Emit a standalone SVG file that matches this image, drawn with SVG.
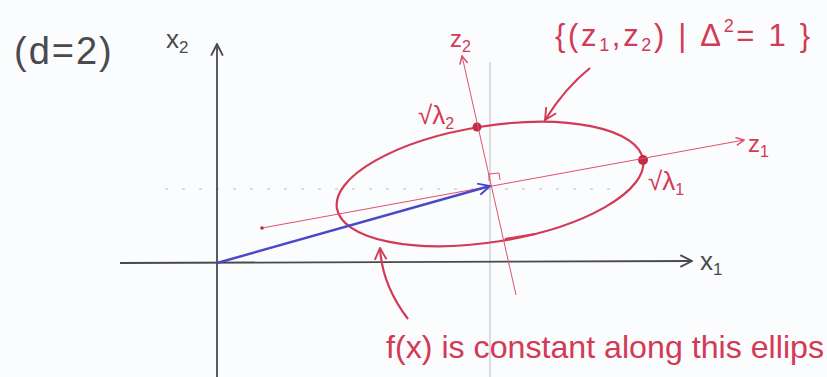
<svg xmlns="http://www.w3.org/2000/svg" width="827" height="377" viewBox="0 0 827 377">
<style>
.ax{stroke:#4a4a4e;stroke-width:1.8;fill:none}
.red{stroke:#d23a55;fill:none;stroke-width:2.2}
.thin{stroke:#e0506a;fill:none;stroke-width:1}
.guide{stroke:#b8bcc4;fill:none;stroke-width:1}
.blk{font-family:"Liberation Sans",Arial,sans-serif;fill:#4a4a4e}
.rt{font-family:"Liberation Sans",Arial,sans-serif;fill:#d23a55}
</style>
<defs>
<marker id="open" viewBox="0 0 10 10" refX="9" refY="5" markerWidth="10" markerHeight="10" markerUnits="userSpaceOnUse" orient="auto"><path d="M1,1 L9,5 L1,9" fill="none" stroke="context-stroke" stroke-width="1.5"/></marker>
<marker id="openL" viewBox="0 0 12 12" refX="11" refY="6" markerWidth="14" markerHeight="14" markerUnits="userSpaceOnUse" orient="auto"><path d="M1,1 L11,6 L1,11" fill="none" stroke="context-stroke" stroke-width="1.6"/></marker>
</defs>
<rect width="827" height="377" fill="#fbfcfe"/>
<g id="guides">
<line class="guide" x1="490" y1="62" x2="490" y2="377"/>
<line class="guide" x1="165" y1="189" x2="610" y2="189" stroke-dasharray="3 14"/>
</g>
<g id="axes">
<line class="ax" x1="217" y1="377" x2="217" y2="44" marker-end="url(#openL)"/>
<line class="ax" x1="120" y1="263" x2="692" y2="261" marker-end="url(#openL)"/>
</g>
<g id="ellipse">
<ellipse class="red" cx="490" cy="184" rx="155" ry="58" transform="rotate(-9 490 184)"/>
<circle cx="477" cy="127" r="4.5" fill="#c02a45"/>
<circle cx="643" cy="160" r="5" fill="#c02a45"/>
<path class="red" d="M505,239 L535,234" stroke-width="3"/>
</g>
<g id="z-axes">
<line class="thin" x1="262" y1="228" x2="744" y2="140" marker-end="url(#open)"/>
<circle cx="262" cy="228" r="1.8" fill="#c02a45"/>
<line class="thin" x1="516" y1="295" x2="462" y2="56" marker-end="url(#open)"/>
<path class="thin" d="M489,181 L489,174 L499,173 L500,180"/>
</g>
<g id="connectors">
<line x1="217" y1="263" x2="490" y2="186" stroke="#4848c8" stroke-width="2.4" marker-end="url(#openL)"/>
<path class="red" d="M590,68 Q565,88 545,120" marker-end="url(#openL)"/>
<path class="red" d="M408,319 Q382,285 380,248" marker-end="url(#openL)"/>
</g>
<g id="labels">
<text class="blk" x="14" y="64" font-size="38" letter-spacing="2">(d=2)</text>
<text class="blk" x="166" y="48" font-size="26">x<tspan font-size="17" dy="5">2</tspan></text>
<text class="blk" x="700" y="270" font-size="26">x<tspan font-size="17" dy="5">1</tspan></text>
<text class="rt" x="555" y="46" font-size="31" textLength="255" lengthAdjust="spacing">{(z<tspan font-size="18" dy="5">1</tspan><tspan dy="-5">,z</tspan><tspan font-size="18" dy="5">2</tspan><tspan dy="-5">)   |   Δ</tspan><tspan font-size="18" dy="-14">2</tspan><tspan dy="14">= 1 }</tspan></text>
<text class="rt" x="450" y="47" font-size="24">z<tspan font-size="16" dy="5">2</tspan></text>
<text class="rt" x="748" y="152" font-size="24">z<tspan font-size="16" dy="5">1</tspan></text>
<text class="rt" x="418" y="124" font-size="26">√λ<tspan font-size="16" dy="5">2</tspan></text>
<text class="rt" x="648" y="190" font-size="26">√λ<tspan font-size="16" dy="5">1</tspan></text>
<text class="rt" x="386" y="358" font-size="32" textLength="438" lengthAdjust="spacingAndGlyphs">f(x) is constant along this ellips</text>
</g>
</svg>
